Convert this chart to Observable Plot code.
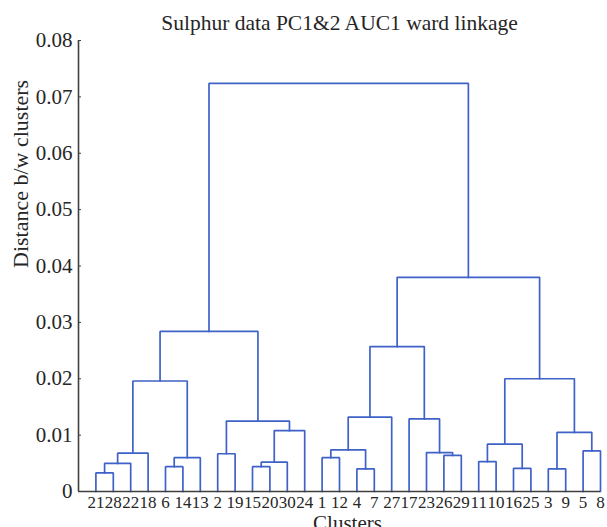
<!DOCTYPE html>
<html>
<head>
<meta charset="utf-8">
<script src="https://cdn.jsdelivr.net/npm/d3@7"></script>
<script src="https://cdn.jsdelivr.net/npm/@observablehq/plot@0.6"></script>
<style>
  body { margin: 0; background: #fff; }
  #chart svg { display: block; overflow: visible; }
</style>
</head>
<body>
<div id="chart"></div>
<script>
// Leaf labels in the left-to-right order of the dendrogram
const leafOrder = [21, 28, 22, 18, 6, 14, 13, 2, 19, 15, 20, 30, 24, 1, 12, 4, 7, 27, 17, 23, 26, 29, 11, 10, 16, 25, 3, 9, 5, 8];

// Ward linkage rows: cluster A, cluster B, merge distance.
// Ids 1-30 are observations; id 30 + k is the cluster formed in row k.
const mergeA = [21, 4, 3, 16, 6, 15, 31, 36, 11, 35, 1, 26, 2, 37, 23, 5, 41, 39, 33, 38, 43, 17, 47, 44, 48, 53, 54, 56, 57];
const mergeB = [28, 7, 9, 25, 14, 20, 22, 30, 10, 13, 12, 29, 19, 18, 42, 8, 32, 34, 46, 24, 50, 45, 27, 40, 49, 52, 51, 55, 58];
const mergeHeight = [0.0033, 0.0040, 0.0040, 0.0041, 0.0044, 0.0044, 0.0050, 0.0052, 0.0053, 0.0060, 0.0060, 0.0064, 0.0067, 0.0068,
                     0.0069, 0.0072, 0.0074, 0.0084, 0.0105, 0.0108, 0.0125, 0.0129, 0.0132, 0.0196, 0.0200, 0.0257, 0.0284, 0.0380, 0.0724];

// Axis ticks
const yTicks = [0, 0.01, 0.02, 0.03, 0.04, 0.05, 0.06, 0.07, 0.08];
const yTickLabels = ["0", "0.01", "0.02", "0.03", "0.04", "0.05", "0.06", "0.07", "0.08"];

const titleText = "Sulphur data PC1&2 AUC1 ward linkage";
const xLabel = "Clusters";
const yLabel = "Distance b/w clusters";

const nLeaves = leafOrder.length;
const leafPositions = leafOrder.map((_, i) => i + 1);

// Position and height of every node (leaves sit at height 0)
const nodePos = new Map(leafOrder.map((leaf, i) => [leaf, i + 1]));
const nodeHeight = new Map(leafOrder.map(leaf => [leaf, 0]));

// Each merge becomes a ⊓-shaped polyline joining its two children
const links = [];
mergeA.forEach((a, k) => {
  const b = mergeB[k];
  const h = mergeHeight[k];
  const xa = nodePos.get(a), xb = nodePos.get(b);
  const ha = nodeHeight.get(a), hb = nodeHeight.get(b);
  links.push({k, x: xa, y: ha}, {k, x: xa, y: h}, {k, x: xb, y: h}, {k, x: xb, y: hb});
  const id = nLeaves + 1 + k;
  nodePos.set(id, (xa + xb) / 2);
  nodeHeight.set(id, h);
});

const ink = "#262626";
const axisInk = "#3f3f3f";
const branchColor = "#3f62c8";

const chart = Plot.plot({
  width: 607,
  height: 527,
  marginTop: 40,
  marginBottom: 36,
  marginLeft: 78,
  marginRight: 7,
  style: {fontFamily: "'Liberation Serif', 'Times New Roman', serif", color: ink, background: "#fff"},
  x: {domain: [0, nLeaves], axis: null},
  y: {domain: [0, 0.08], axis: null},
  marks: [
    Plot.line(links, {x: "x", y: "y", z: "k", stroke: branchColor, strokeWidth: 1.7, strokeLinejoin: "miter", strokeLinecap: "square"}),
    Plot.ruleX([0], {stroke: axisInk, strokeWidth: 1.6}),
    Plot.ruleY([0], {stroke: axisInk, strokeWidth: 1.6}),
    Plot.axisY({ticks: yTicks, tickFormat: (d, i) => yTickLabels[i], tickSize: -3, tickPadding: 9, fontSize: 21, stroke: axisInk, fill: ink, label: null}),
    Plot.axisX({ticks: leafPositions, tickFormat: p => String(leafOrder[p - 1]), tickSize: 0, tickPadding: 4, fontSize: 17, fill: ink, label: null}),
    Plot.text([titleText], {frameAnchor: "top", dy: -11, lineAnchor: "bottom", fontSize: 21.5, fill: ink}),
    // The axis title sits low, partly below the bottom edge
    Plot.text([xLabel], {frameAnchor: "bottom", dx: 8, dy: 38, lineAnchor: "bottom", fontSize: 21, fill: ink}),
    Plot.text([yLabel], {frameAnchor: "left", rotate: -90, dx: -51, dy: 2, lineAnchor: "bottom", fontSize: 22, fill: ink})
  ]
});
document.getElementById("chart").append(chart);
</script>
</body>
</html>
